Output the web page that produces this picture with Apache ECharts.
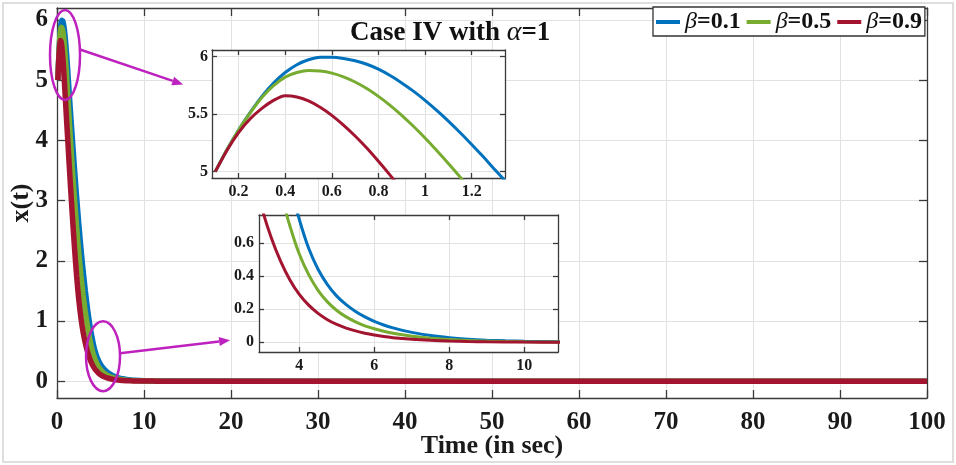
<!DOCTYPE html>
<html>
<head>
<meta charset="utf-8">
<title>Case IV with alpha=1</title>
<script src="https://cdn.jsdelivr.net/npm/echarts@6.0.0/dist/echarts.min.js"></script>
<style>
  html, body { margin: 0; padding: 0; background: #fff; }
  #chart { width: 956px; height: 465px; }
</style>
</head>
<body>
<div id="chart"></div>
<script>
// time (s) and x(t), one pair of arrays per beta
var tBlue = [0.1,0.15,0.2,0.25,0.3,0.35,0.4,0.45,0.5,0.55,0.6,0.65,0.7,0.75,0.8,0.85,0.9,0.95,1.0,1.05,1.1,1.15,1.2,1.25,1.3,
             1.5,1.75,2.0,2.25,2.5,2.75,3.0,3.25,3.5,3.75,4.0,4.25,4.5,4.75,5.0,5.25,5.5,5.75,6.0,6.25,6.5,6.75,7.0,7.5,8.0,8.5,9.0,9.5,10,11,12,100];
var xBlue = [5.0,5.19,5.362,5.515,5.655,5.77,5.862,5.93,5.973,5.994,5.995,5.985,5.964,5.934,5.891,5.836,5.772,5.7,5.62,5.533,5.44,5.341,5.237,5.129,5.017,
             4.58,4.06,3.55,3.07,2.62,2.21,1.84,1.51,1.21,0.955,0.745,0.57,0.443,0.35,0.28,0.228,0.187,0.154,0.127,0.105,0.087,0.072,0.06,0.041,0.028,0.019,0.013,0.009,0.006,0.003,0.001,0];

var tGreen = [0.1,0.15,0.2,0.25,0.3,0.35,0.4,0.45,0.5,0.55,0.6,0.65,0.7,0.75,0.8,0.85,0.9,0.95,1.0,1.05,1.1,1.15,
              1.25,1.5,1.75,2.0,2.25,2.5,2.75,3.0,3.25,3.5,3.75,4.0,4.25,4.5,4.75,5.0,5.25,5.5,5.75,6.0,6.25,6.5,6.75,7.0,7.5,8.0,8.5,9.0,9.5,10,11,12,100];
var xGreen = [5.0,5.19,5.362,5.512,5.645,5.748,5.822,5.862,5.88,5.875,5.857,5.825,5.78,5.723,5.655,5.577,5.49,5.395,5.293,5.185,5.072,4.955,
              4.71,4.12,3.56,3.04,2.57,2.14,1.76,1.43,1.15,0.91,0.705,0.535,0.41,0.315,0.245,0.193,0.154,0.124,0.1,0.082,0.067,0.055,0.045,0.037,0.025,0.017,0.011,0.0075,0.005,0.0034,0.0015,0.0006,0];

var tRed = [0.1,0.15,0.2,0.25,0.3,0.35,0.4,0.45,0.5,0.55,0.6,0.65,0.7,0.75,0.8,0.85,0.9,
            1.0,1.25,1.5,1.75,2.0,2.25,2.5,2.75,3.0,3.25,3.5,3.75,4.0,4.25,4.5,4.75,5.0,5.25,5.5,5.75,6.0,6.25,6.5,6.75,7.0,7.5,8.0,8.5,9.0,10,11,12,100];
var xRed = [5.0,5.185,5.34,5.46,5.55,5.62,5.66,5.65,5.615,5.56,5.49,5.405,5.31,5.205,5.09,4.97,4.845,
            4.59,3.97,3.36,2.78,2.24,1.76,1.36,1.05,0.815,0.635,0.492,0.378,0.29,0.225,0.175,0.137,0.108,0.086,0.069,0.055,0.044,0.035,0.028,0.023,0.018,0.012,0.008,0.005,0.003,0.0012,0.0005,0,0];

var seriesNames = ['β=0.1', 'β=0.5', 'β=0.9'];

// tick values
var mainXTicks = [0,10,20,30,40,50,60,70,80,90,100];
var mainYTicks = [0,1,2,3,4,5,6];
var zoomAXTicks = [0.2,0.4,0.6,0.8,1,1.2];
var zoomAYTicks = [5,5.5,6];
var zoomBXTicks = [4,6,8,10];
var zoomBYTicks = [0,0.2,0.4,0.6];

var colors = ['#0072BD', '#77AC30', '#A2142F'];
var FONT = 'Liberation Serif';
var AXIS_COLOR = '#3a3a3a';
var MAGENTA = '#BE22BE';

function pairs(t, x) {
    return t.map(function (v, i) { return [v, x[i]]; });
}
var curves = [pairs(tBlue, xBlue), pairs(tGreen, xGreen), pairs(tRed, xRed)];

// one value axis; mirror = the box side (top / right) with ticks only
function axis(grid, pos, min, max, ticks, o) {
    var mirror = pos === 'top' || pos === 'right';
    return {
        type: 'value', gridIndex: grid, position: pos, min: min, max: max, z: o.z,
        name: mirror ? '' : (o.name || ''),
        nameLocation: 'middle', nameGap: o.nameGap, nameMoveOverlap: false,
        nameTextStyle: { fontFamily: FONT, fontWeight: 'bold', fontSize: 26, color: '#1a1a1a' },
        axisLine: { show: true, onZero: false, lineStyle: { color: AXIS_COLOR, width: 1.3 } },
        axisTick: { show: true, inside: true, length: o.tick, customValues: ticks,
                    lineStyle: { color: AXIS_COLOR, width: 1.3 } },
        axisLabel: { show: !mirror, customValues: ticks, margin: o.margin, color: '#1a1a1a',
                     fontFamily: FONT, fontWeight: 'bold', fontSize: o.size },
        splitLine: { show: !mirror, lineStyle: { color: '#e2e2e2', width: 1 } }
    };
}

var mainO = { z: 0, tick: 8, margin: 12, size: 25 };
var insetO = { z: 5, tick: 5, margin: 6, size: 16 };

var xAxes = [
    axis(0, 'bottom', 0, 100, mainXTicks, Object.assign({ name: 'Time (in sec)', nameGap: 35 }, mainO)),
    axis(0, 'top', 0, 100, mainXTicks, mainO),
    axis(1, 'bottom', 0.086, 1.343, zoomAXTicks, insetO),
    axis(1, 'top', 0.086, 1.343, zoomAXTicks, insetO),
    axis(2, 'bottom', 2.925, 10.9, zoomBXTicks, insetO),
    axis(2, 'top', 2.925, 10.9, zoomBXTicks, insetO)
];
var yAxes = [
    axis(0, 'left', -0.28, 6.2, mainYTicks, Object.assign({ name: 'x(t)', nameGap: 23 }, mainO, { margin: 9 })),
    axis(0, 'right', -0.28, 6.2, mainYTicks, mainO),
    axis(1, 'left', 4.945, 6.058, zoomAYTicks, Object.assign({}, insetO, { margin: 4 })),
    axis(1, 'right', 4.945, 6.058, zoomAYTicks, insetO),
    axis(2, 'left', -0.059, 0.772, zoomBYTicks, Object.assign({}, insetO, { margin: 5 })),
    axis(2, 'right', -0.059, 0.772, zoomBYTicks, insetO)
];

var series = [];
[0, 1, 2].forEach(function (g) {
    curves.forEach(function (data, i) {
        series.push({
            type: 'line', name: seriesNames[i], data: data,
            xAxisIndex: g * 2, yAxisIndex: g * 2,
            showSymbol: false, smooth: 0.3, clip: true,
            z: g === 0 ? 2 : 6, animation: false,
            lineStyle: { color: colors[i], width: g === 0 ? 5.5 : 3 },
            itemStyle: { color: colors[i] }
        });
    });
});

var chart = echarts.init(document.getElementById('chart'));
chart.setOption({
    animation: false,
    backgroundColor: '#fff',
    title: {
        text: 'Case IV with {a|α}=1', left: 345, top: 14,
        textStyle: {
            fontFamily: FONT, fontWeight: 'bold', fontSize: 27, color: '#111',
            rich: { a: { fontFamily: FONT, fontStyle: 'italic', fontWeight: 'normal', fontSize: 28, color: '#111' } }
        }
    },
    legend: {
        data: seriesNames, left: 653, top: 7, z: 10,
        icon: 'rect', itemWidth: 24, itemHeight: 4, itemGap: 6,
        padding: [3, 3, 2, 3], backgroundColor: '#fff',
        borderColor: '#333', borderWidth: 1.3, borderRadius: 0,
        formatter: function (n) { return '{b|β}{v|' + n.slice(1) + '}'; },
        textStyle: {
            rich: {
                b: { fontFamily: FONT, fontStyle: 'italic', fontSize: 24, color: '#111' },
                v: { fontFamily: FONT, fontWeight: 'bold', fontSize: 24, color: '#111' }
            }
        }
    },
    grid: [
        { left: 57, right: 29, top: 8, bottom: 67, outerBoundsMode: 'none' },
        { left: 212, top: 50, width: 293, height: 128, show: true, z: 4, backgroundColor: '#fff', borderWidth: 0, outerBoundsMode: 'none' },
        { left: 259, top: 215, width: 299, height: 137, show: true, z: 4, backgroundColor: '#fff', borderWidth: 0, outerBoundsMode: 'none' }
    ],
    xAxis: xAxes,
    yAxis: yAxes,
    series: series
});

// magenta call-outs, placed in the main axes' data space
function px(p) { return chart.convertToPixel({ gridIndex: 0 }, p); }
function arrow(from, to) {
    var a = px(from), b = px(to);
    var ang = Math.atan2(b[1] - a[1], b[0] - a[0]);
    var L = 11, W = 4.5;
    var bx = b[0] - L * Math.cos(ang), by = b[1] - L * Math.sin(ang);
    return [
        { type: 'line', z: 100, shape: { x1: a[0], y1: a[1], x2: bx, y2: by },
          style: { stroke: MAGENTA, lineWidth: 2.5 } },
        { type: 'polygon', z: 100, shape: { points: [
            [b[0], b[1]],
            [bx - W * Math.sin(ang), by + W * Math.cos(ang)],
            [bx + W * Math.sin(ang), by - W * Math.cos(ang)]
          ] }, style: { fill: MAGENTA } }
    ];
}
function ellipse(c, rx, ry) {
    var p = px(c);
    return { type: 'ellipse', z: 100, shape: { cx: p[0], cy: p[1], rx: rx, ry: ry },
             style: { fill: null, stroke: MAGENTA, lineWidth: 2.5 } };
}
chart.setOption({
    graphic: [
        { type: 'rect', z: 100, shape: { x: 3, y: 3, width: 950, height: 459 },
          style: { fill: null, stroke: '#dedede', lineWidth: 2 } },
        ellipse([0.92, 5.42], 15, 45),
        ellipse([5.29, 0.415], 17, 35)
    ].concat(arrow([2.64, 5.51], [14.5, 4.93]), arrow([7.24, 0.465], [19.9, 0.68]))
});
</script>
</body>
</html>
